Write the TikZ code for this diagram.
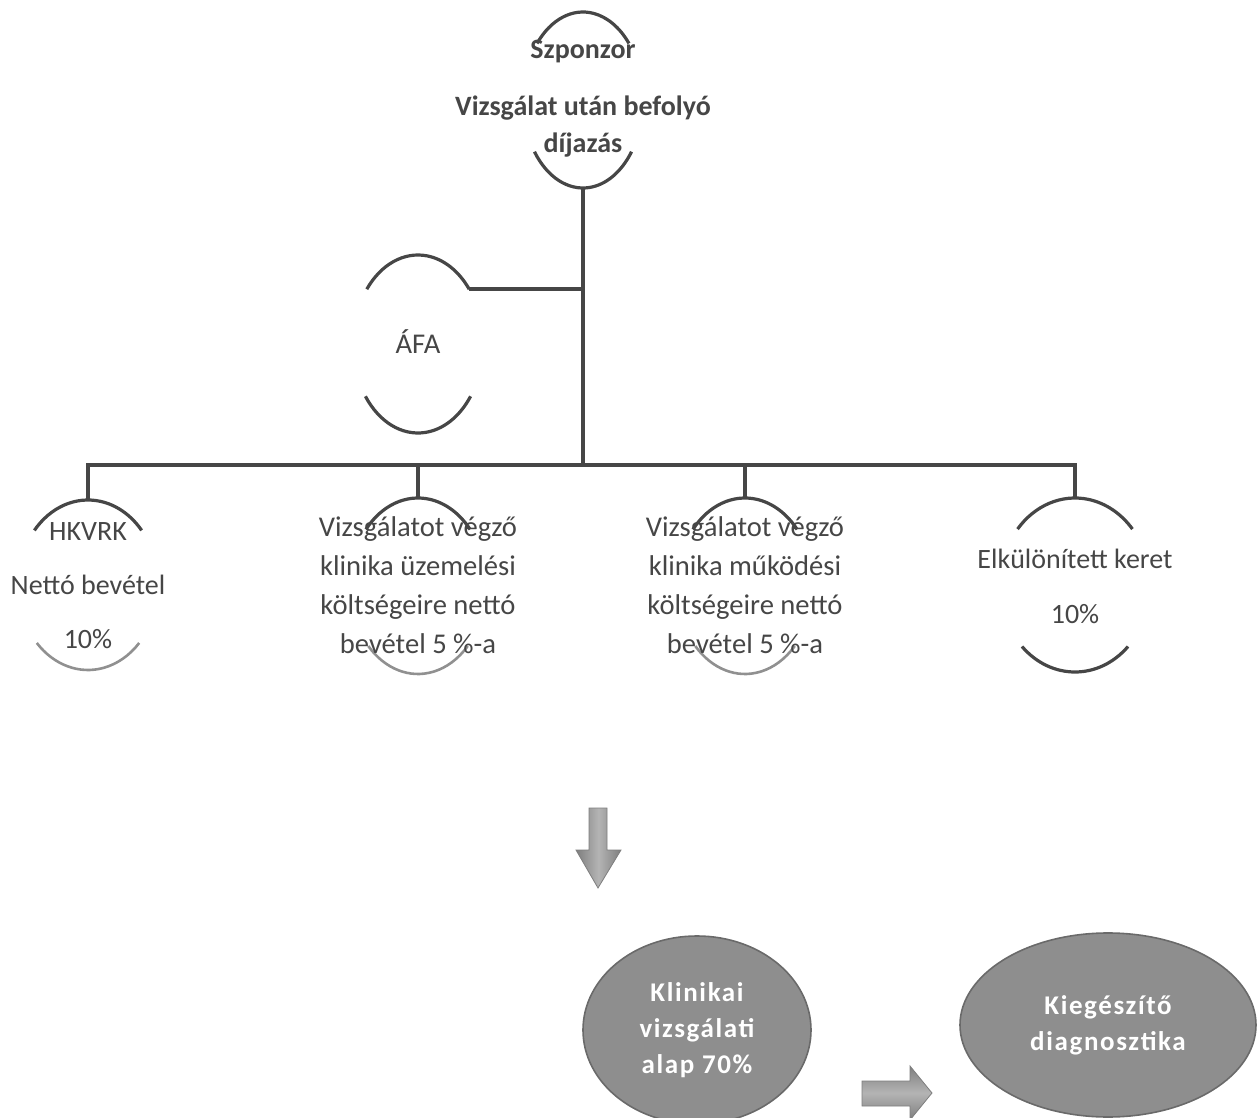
\documentclass[tikz,border=0pt]{standalone}
\usepackage{fontspec}
\setmainfont{Carlito}
\usetikzlibrary{positioning,shapes.geometric}

\definecolor{ink}{HTML}{464646}
\definecolor{blobfill}{HTML}{8E8E8E}
\definecolor{blobline}{HTML}{6A6A6A}
\definecolor{arrowdark}{HTML}{7E7E7E}
\definecolor{arrowlight}{HTML}{B4B4B4}

\tikzset{
  txt/.style={text=ink, align=center, inner sep=0pt,
    font=\fontsize{14.3}{19.4}\selectfont},
  frame/.style={ellipse, inner sep=0pt, outer sep=0pt},
  hook/.style={draw=ink, line width=1.6pt},
  faint/.style={draw=ink!60, line width=1.3pt},
  link/.style={draw=ink, line width=2.2pt},
  blob/.style={ellipse, draw=blobline, line width=0.8pt, fill=blobfill,
    text=white, align=center, inner sep=0pt,
    font=\bfseries\fontsize{13.5}{18}\selectfont\addfontfeature{LetterSpace=6}},
  fat/.style={draw=arrowdark, line width=0.4pt},
}

% top and bottom arc of an ellipse: centre, rx, ry, top angle, bottom angle, style
\newcommand\twoarcs[6]{%
  \draw[hook] (#1) ++(180+#4:#2 and #3)
    arc[start angle=180+#4, end angle=360-#4, x radius=#2, y radius=#3];
  \draw[#6] (#1) ++(180-#5:#2 and #3)
    arc[start angle=180-#5, end angle=#5, x radius=#2, y radius=#3];}

\begin{document}
\begin{tikzpicture}[x=0.5pt, y=-0.5pt]
  \useasboundingbox (0,0) rectangle (1260,1118);
  \clip (0,0) rectangle (1260,1118);

  % bracket frames
  \node[frame, minimum width=60pt, minimum height=88pt] (sponsor) at (583,100) {};
  \node[frame, minimum width=65pt, minimum height=89pt] (afa) at (418,344) {};
  \node[frame, minimum width=70pt, minimum height=85pt] (hkvrk) at (88,585) {};
  \node[frame, minimum width=68pt, minimum height=88pt] (clinicop) at (418,586) {};
  \node[frame, minimum width=68pt, minimum height=88pt] (clinicrun) at (745,586) {};
  \node[frame, minimum width=75pt, minimum height=87pt] (reserve) at (1075,585) {};

  \twoarcs{sponsor}{60}{88}{40}{36}{hook}
  \twoarcs{afa}{65}{89}{38}{36}{hook}
  \twoarcs{hkvrk}{70}{85}{40}{43}{faint}
  \twoarcs{clinicop}{68}{88}{40}{43}{faint}
  \twoarcs{clinicrun}{68}{88}{40}{43}{faint}
  \twoarcs{reserve}{75}{87}{40}{45}{hook}
  \path (afa) ++(322:65 and 89) coordinate (afahook);

  % texts
  \node[txt, font=\bfseries\fontsize{14}{18.5}\selectfont] (sponsorname) at (583,52) {Szponzor};
  \node[txt, font=\bfseries\fontsize{14}{18.5}\selectfont] (sponsortext) at (583,127)
    {Vizsgálat után befolyó\\díjazás};
  \node[txt] (afatext) at (418,342) {ÁFA};
  \node[txt, font=\fontsize{14}{27}\selectfont] (hkvrktext) at (88,586)
    {HKVRK\\Nettó bevétel\\10\%};
  \node[txt] (clinicoptext) at (418,585)
    {Vizsgálatot végző\\klinika üzemelési\\költségeire nettó\\bevétel 5 \%-a};
  \node[txt] (clinicruntext) at (745,585)
    {Vizsgálatot  végző\\klinika működési\\költségeire nettó\\bevétel 5 \%-a};
  \node[txt, font=\fontsize{14}{27.5}\selectfont] (reservetext) at (1075,586)
    {Elkülönített keret\\10\%};

  % tree
  \coordinate (hub) at (583,465);
  \begin{scope}[link]
    \draw (sponsor.south) -- (hub);
    \draw (afahook) -- (afahook -| hub);
    \draw (hkvrk.north) |- (hub);
    \draw (reserve.north) |- (hub);
    \draw (clinicop.north) -- (clinicop.north |- hub);
    \draw (clinicrun.north) -- (clinicrun.north |- hub);
  \end{scope}

  % lower part
  \draw[fat, left color=arrowdark, right color=arrowdark, middle color=arrowlight]
    (589,808) -- (607,808) -- (607,850) -- (621,850) -- (598,888)
    -- (576,850) -- (589,850) -- cycle;
  \node[blob, minimum width=114pt, minimum height=94pt] (base) at (697,1030)
    {Klinikai\\vizsgálati\\alap 70\%};
  \node[blob, minimum width=148pt, minimum height=92pt] (diag) at (1108,1025)
    {Kiegészítő\\diagnosztika};
  \draw[fat, top color=arrowdark, bottom color=arrowdark, middle color=arrowlight]
    (862,1081) -- (910,1081) -- (910,1066) -- (932,1093) -- (910,1120)
    -- (910,1106) -- (862,1106) -- cycle;
\end{tikzpicture}
\end{document}
